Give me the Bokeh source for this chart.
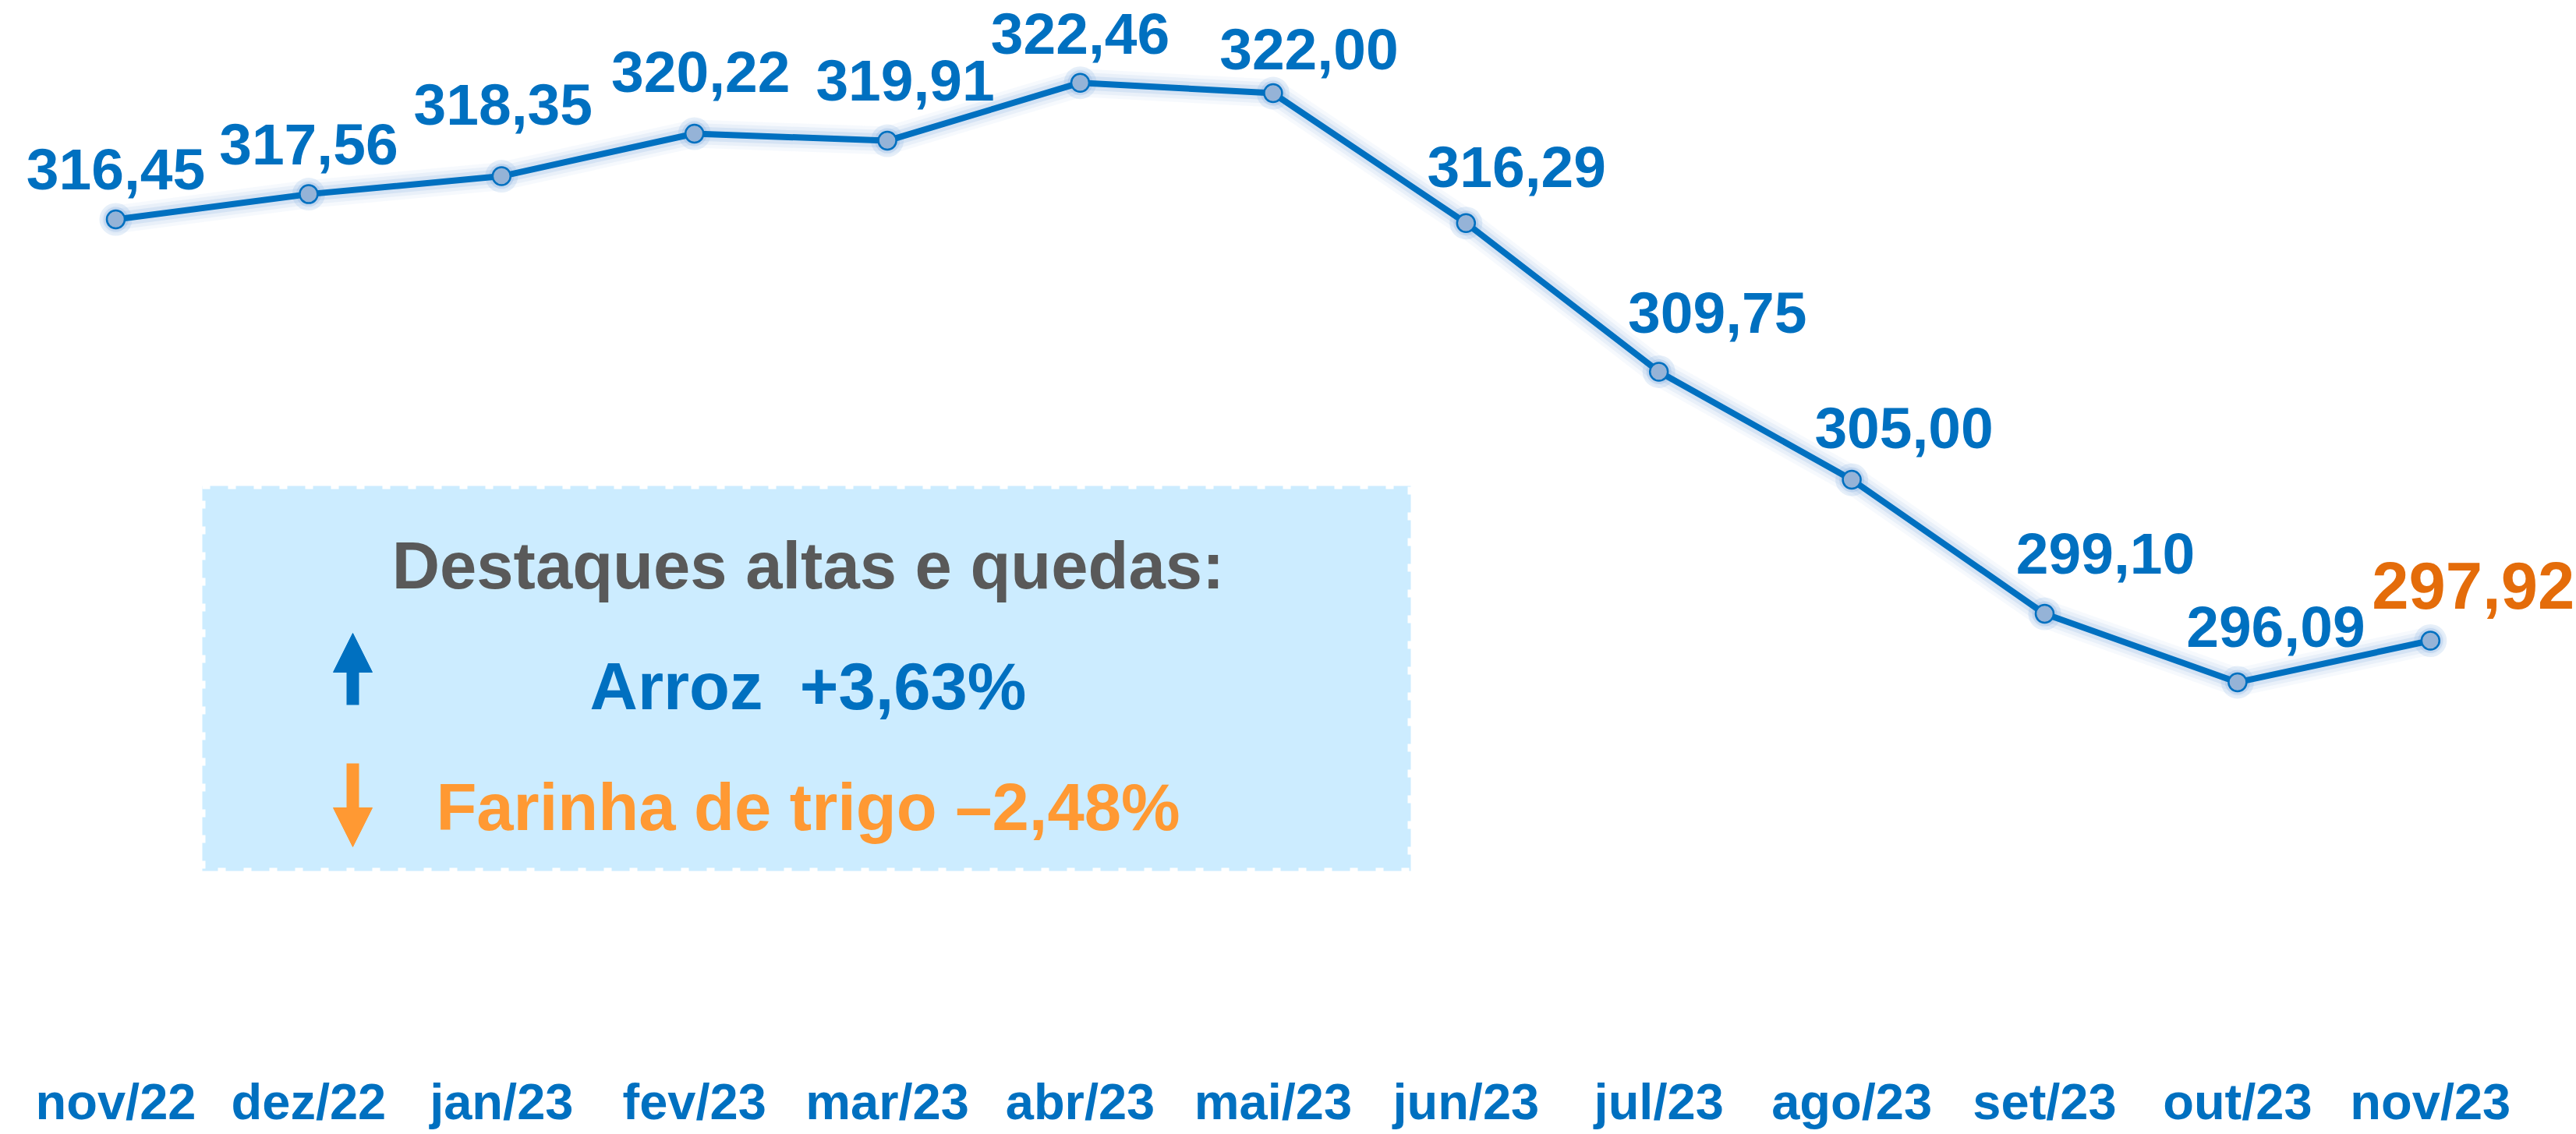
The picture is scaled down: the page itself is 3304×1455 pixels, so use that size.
from bokeh.plotting import figure
from bokeh.models import (ColumnDataSource, Range1d, BoxAnnotation, Label, Arrow,
                          NormalHead, FixedTicker)
from bokeh.core.properties import value
from bokeh.embed import file_html
from bokeh.resources import INLINE

# ---- data ----
months = ["nov/22", "dez/22", "jan/23", "fev/23", "mar/23", "abr/23", "mai/23",
          "jun/23", "jul/23", "ago/23", "set/23", "out/23", "nov/23"]
values = [316.45, 317.56, 318.35, 320.22, 319.91, 322.46, 322.00,
          316.29, 309.75, 305.00, 299.10, 296.09, 297.92]
value_labels = ["316,45", "317,56", "318,35", "320,22", "319,91", "322,46", "322,00",
                "316,29", "309,75", "305,00", "299,10", "296,09", "297,92"]
box_title = "Destaques altas e quedas:"
box_up = "Arroz \u00a0+3,63%"
box_down = "Farinha de trigo \u20132,48%"

# ---- label styling (offsets in screen px) ----
label_dx = [0, 0, 2, 8, 23, 0, 46, 65, 75, 67, 78, 49, 55]
label_dy = [36, 36, 64, 51, 49, 35, 28, 44, 48, 38, 49, 43, 39]
label_color = ["#0070C0"] * 12 + ["#E46C0A"]
label_fs = [75] * 12 + [85]
SHIFT = 0.375   # baseline correction (fraction of font size)

BLUE = "#0070C0"
FONT = value("Liberation Sans")

FW, FH = 3304, 1374
x0, xs = -0.5982, 247.4           # data start, px per unit
ytop, ys = 326.083, 29.17         # data at top, px per unit

def px2x(px):
    return x0 + px / xs

def px2y(py):
    return ytop - py / ys

p = figure(frame_width=FW, frame_height=FH, output_backend="svg", toolbar_location=None,
           x_range=Range1d(x0, x0 + FW / xs), y_range=Range1d(ytop - FH / ys, ytop),
           y_axis_location=None, min_border=0, min_border_left=0, min_border_right=0,
           min_border_top=0, min_border_bottom=0, background_fill_color="white",
           border_fill_color="white", outline_line_color=None)
p.xgrid.visible = False
p.ygrid.visible = False

idx = list(range(len(months)))
src = ColumnDataSource(dict(x=idx, y=values, lab=value_labels, dx=label_dx,
                            dy=[-(d + SHIFT * f) for d, f in zip(label_dy, label_fs)],
                            c=label_color, fs=[f"{f}px" for f in label_fs]))

# glow
for w, a in [(36, 0.08), (27, 0.12), (18, 0.22)]:
    p.line("x", "y", source=src, line_width=w, line_color="#8DB4E2", line_alpha=a,
           line_join="round", line_cap="round")
p.scatter("x", "y", source=src, size=42, fill_color="#8DB4E2", fill_alpha=0.22, line_color=None)
p.scatter("x", "y", source=src, size=32, fill_color="#8DB4E2", fill_alpha=0.3, line_color=None)

p.line("x", "y", source=src, line_width=8, line_color=BLUE, line_join="round")
p.scatter("x", "y", source=src, size=23, fill_color="#95B3D7", line_color=BLUE, line_width=2.5)

p.text("x", "y", text="lab", source=src, x_offset="dx", y_offset="dy",
       text_color="c", text_font_size="fs", text_font=FONT, text_font_style="bold",
       text_align="center", text_baseline="alphabetic")

# axis
ax = p.xaxis[0]
ax.ticker = FixedTicker(ticks=idx)
ax.major_label_overrides = {i: m for i, m in enumerate(months)}
ax.axis_line_color = None
ax.major_tick_line_color = None
ax.minor_tick_line_color = None
ax.major_tick_out = 0
ax.major_tick_in = 0
ax.major_label_standoff = 2
ax.major_label_text_font = "Liberation Sans"
ax.major_label_text_font_style = "bold"
ax.major_label_text_font_size = "65px"
ax.major_label_text_color = BLUE

# highlight box
box = BoxAnnotation(left=px2x(259), right=px2x(1809), top=px2y(623), bottom=px2y(1117),
                    fill_color="#CCECFF", fill_alpha=1.0, line_color="white",
                    line_width=8, line_dash="10 23", line_alpha=1.0)
p.add_layout(box)

cx = px2x(1036)
for txt, py, col in [(box_title, 757, "#595959"), (box_up, 912, BLUE), (box_down, 1067, "#FF9933")]:
    p.add_layout(Label(x=cx, y=px2y(py - SHIFT * 85), text=txt, text_color=col,
                       text_font="Liberation Sans", text_font_style="bold",
                       text_font_size="85px", text_align="center", text_baseline="alphabetic"))

ax_x = px2x(452)
p.add_layout(Arrow(x_start=ax_x, y_start=px2y(904), x_end=ax_x, y_end=px2y(812),
                   line_color=BLUE, line_width=16,
                   end=NormalHead(size=50, fill_color=BLUE, line_color=BLUE, line_width=1)))
p.add_layout(Arrow(x_start=ax_x, y_start=px2y(979), x_end=ax_x, y_end=px2y(1086),
                   line_color="#FF9933", line_width=16,
                   end=NormalHead(size=50, fill_color="#FF9933", line_color="#FF9933", line_width=1)))

open("out.html", "w").write(file_html(p, INLINE))
